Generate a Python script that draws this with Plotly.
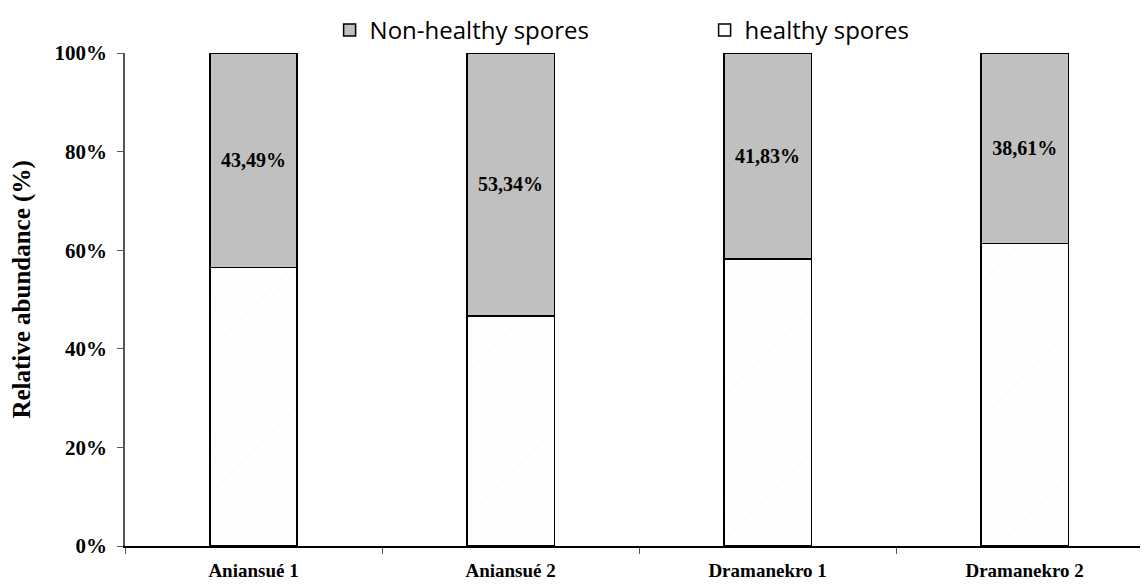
import plotly.graph_objects as go

categories = ["Aniansué 1", "Aniansué 2", "Dramanekro 1", "Dramanekro 2"]
non_healthy = [43.49, 53.34, 41.83, 38.61]
healthy = [56.51, 46.66, 58.17, 61.39]
non_healthy_labels = ["43,49%", "53,34%", "41,83%", "38,61%"]
y_ticks = [0, 20, 40, 60, 80, 100]
y_tick_labels = ["0%", "20%", "40%", "60%", "80%", "100%"]
y_title = "Relative abundance (%)"

serif = "Liberation Serif"

fig = go.Figure()
fig.add_trace(go.Bar(
    x=categories, y=healthy, name="healthy spores",
    marker=dict(color="white", line=dict(color="black", width=1.5),
                pattern=dict(shape="/", fgcolor="#f0f0f0", bgcolor="white", size=6, solidity=0.15)),
    width=0.34, showlegend=True,
))
fig.add_trace(go.Bar(
    x=categories, y=non_healthy, name="Non-healthy spores",
    marker=dict(color="#c0c0c0", line=dict(color="black", width=1.5)),
    width=0.34,
    text=non_healthy_labels, textposition="inside", insidetextanchor="middle",
    textfont=dict(family=serif, size=20, color="black", weight="bold"),
))

# the page adds an 8px body margin, compensated in the figure margins
fig.update_layout(
    barmode="stack",
    width=1148, height=584,
    margin=dict(l=117, r=8, t=44, b=46),
    paper_bgcolor="white", plot_bgcolor="white",
    showlegend=True,
    legend=dict(orientation="h", x=0.2, xanchor="left",
                yref="container", y=1.0, yanchor="top",
                traceorder="reversed", entrywidth=330,
                font=dict(family="Open Sans", size=24, color="black"),
                itemwidth=30, bgcolor="rgba(0,0,0,0)"),
    xaxis=dict(range=[-0.5, 3.48], showline=True, linecolor="black", linewidth=1.5,
               ticks="outside", tickson="boundaries", ticklen=6, tickcolor="#555",
               ticklabelstandoff=6,
               tickfont=dict(family=serif, size=19, color="black", weight="bold"),
               showgrid=False, automargin=False),
    yaxis=dict(range=[0, 100], tickvals=y_ticks, ticktext=y_tick_labels,
               showline=True, linecolor="#555", linewidth=1.5,
               ticks="outside", ticklen=6, tickcolor="#555", ticklabelstandoff=6,
               tickfont=dict(family=serif, size=21, color="black", weight="bold"),
               showgrid=False, zeroline=False, automargin=False),
    bargap=0.66,
)
fig.add_annotation(text=y_title, xref="paper", yref="paper", x=-0.1007, y=0.52,
                   xanchor="center", yanchor="middle", textangle=-90, showarrow=False,
                   font=dict(family=serif, size=25, color="black", weight="bold"))

fig.write_html("out.html")
